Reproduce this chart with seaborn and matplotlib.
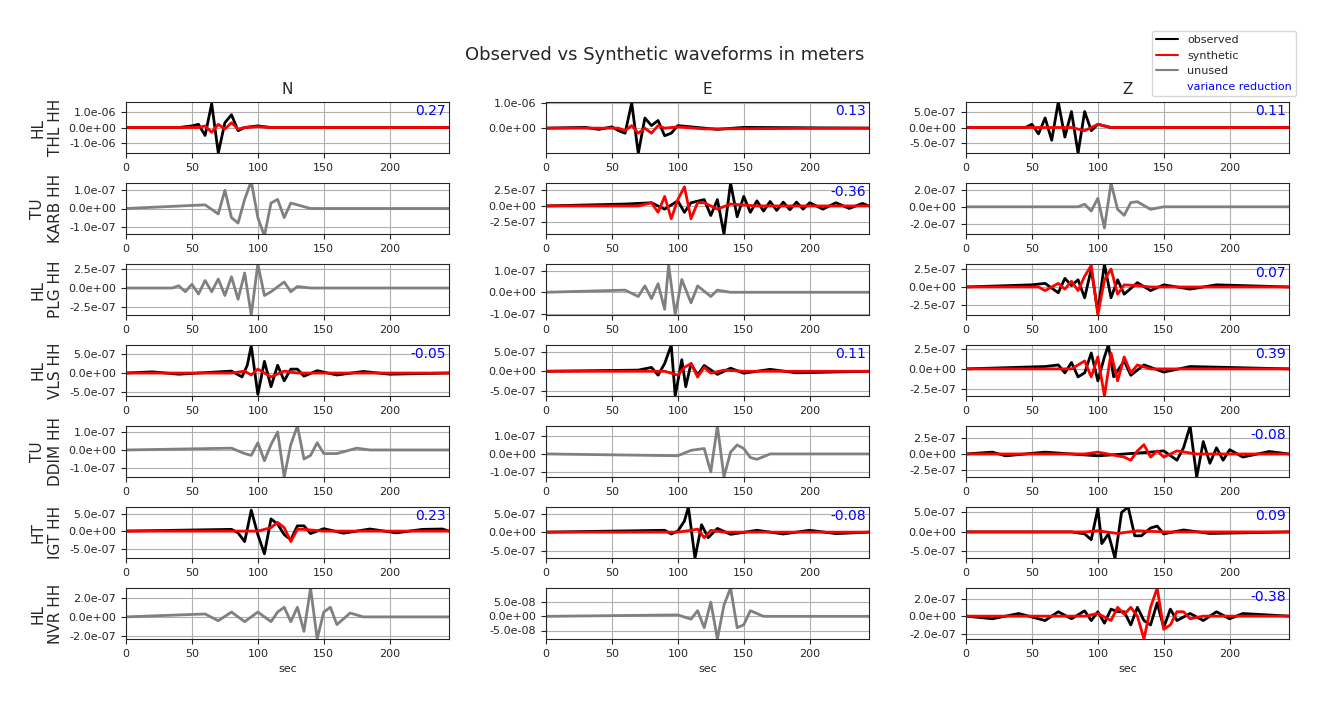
import matplotlib
matplotlib.use("Agg")
import matplotlib.pyplot as plt
import seaborn as sns
import pandas as pd
from matplotlib.lines import Line2D
from matplotlib.ticker import FormatStrFormatter

sns.set_style("ticks")
plt.rcParams['font.family'] = ['DejaVu Sans']

# waveform knots (time in sec, amplitude in 1e-7 m)
THL_N_obs = [(0, 0), (40, 0), (50, 1), (55, 2), (60, -5), (65, 15), (70, -16), (75, 3), (80, 8), (85, -2), (90, 0), (100, 1), (110, 0), (245, 0)]
THL_N_syn = [(0, 0), (55, 0), (60, 1), (65, -3), (70, 2), (75, -1), (80, 3), (85, -1), (90, 0), (100, 0.5), (110, 0), (245, 0)]
THL_E_obs = [(0, 0), (30, 0.3), (40, -0.5), (50, 0.5), (55, -1), (60, -2), (65, 10), (70, -10), (75, 4), (80, 1), (85, 3), (90, -3), (95, -2), (100, 1), (110, 0.5), (130, -0.5), (150, 0.3), (245, 0)]
THL_E_syn = [(0, 0), (55, 0), (60, -1), (65, 1), (70, -2), (75, 0), (80, -2), (85, 1), (90, 0), (100, 0.5), (120, -0.3), (245, 0)]
THL_Z_obs = [(0, 0), (45, 0), (50, 1), (55, -2), (60, 3), (65, -4), (70, 8), (75, -3), (80, 5), (85, -8), (90, 5), (95, -1), (100, 1), (110, 0), (245, 0)]
THL_Z_syn = [(0, 0), (80, 0), (90, -1), (100, 1), (110, 0), (245, 0)]

KARB_N_gray = [(0, 0), (60, 0.2), (70, -0.3), (75, 1), (80, -0.5), (85, -0.8), (90, 0.5), (95, 1.5), (100, -0.5), (105, -1.5), (110, 0.3), (115, 0.5), (120, -0.5), (125, 0.3), (130, 0.2), (140, 0), (245, 0)]
KARB_E_obs = [(0, 0), (60, 0.3), (80, 0.5), (90, -0.5), (100, 0.8), (105, -1), (110, 0.5), (120, 1), (125, -1.5), (130, 1), (135, -4.4), (140, 3.6), (145, -1.7), (150, 1.5), (155, -1), (160, 0.8), (165, -0.8), (170, 0.7), (175, -0.7), (180, 0.6), (185, -0.6), (190, 0.6), (195, -0.5), (200, 0.5), (210, -0.5), (220, 0.5), (230, -0.4), (240, 0.4), (245, 0)]
KARB_E_syn = [(0, 0), (70, 0), (80, 0.5), (85, -1), (90, 1.5), (95, -2), (100, 1), (105, 3), (110, -2), (115, 0.5), (120, 0.5), (130, -0.5), (140, 0.3), (160, 0), (245, 0)]
KARB_Z_gray = [(0, 0), (85, 0), (90, 0.3), (95, -0.5), (100, 1), (105, -2.5), (110, 2.8), (115, -0.3), (120, -1), (125, 0.5), (130, 0.6), (140, -0.3), (150, 0), (245, 0)]

PLG_N_gray = [(0, 0), (35, 0), (40, 0.3), (45, -0.5), (50, 0.5), (55, -0.8), (60, 1), (65, -0.5), (70, 1.2), (75, -1), (80, 1.5), (85, -1.5), (90, 2), (95, -3.6), (100, 3.2), (105, -1), (110, -0.5), (120, 0.8), (125, -0.5), (130, 0.2), (140, 0), (245, 0)]
PLG_E_gray = [(0, 0), (60, 0.1), (70, -0.2), (75, 0.3), (80, -0.3), (85, 0.4), (90, -0.8), (93, 1.3), (98, -1.05), (103, 0.6), (110, -0.5), (115, 0.3), (125, -0.2), (130, 0.1), (140, 0), (245, 0)]
PLG_Z_obs = [(0, 0), (50, 0.3), (60, 0.5), (70, -0.8), (75, 1.2), (80, 0.2), (85, 1), (90, -1.5), (95, 2.5), (100, -3.5), (105, 3.2), (110, -1.5), (115, 1), (120, -1), (130, 0.6), (140, -0.5), (150, 0.3), (170, -0.3), (190, 0.3), (245, 0)]
PLG_Z_syn = [(0, 0), (55, 0), (60, -0.5), (70, 0.5), (75, -0.3), (80, 0.8), (85, -0.5), (90, 1.5), (95, 3), (100, -3.9), (105, 1), (110, 2.5), (115, -1), (120, 0.3), (130, 0.2), (140, 0), (245, 0)]

VLS_N_obs = [(0, 0), (20, 0.3), (40, -0.3), (80, 0.5), (88, -1), (92, 2), (95, 7), (100, -5.5), (105, 3), (110, -3.5), (115, 2), (120, -2), (125, 1), (130, 1), (135, -0.8), (145, 0.6), (160, -0.5), (180, 0.4), (200, -0.3), (245, 0)]
VLS_N_syn = [(0, 0), (80, 0), (90, 0.5), (95, -0.5), (100, 1), (110, -1), (120, 0.5), (130, 0), (245, 0)]
VLS_E_obs = [(0, 0), (70, 0.3), (80, 1), (85, -1), (90, 2), (95, 6.8), (98, -6.4), (103, 3), (106, -4), (110, 2), (115, -1), (120, 1.5), (130, -0.8), (140, 0.8), (150, -0.5), (170, 0.5), (190, -0.4), (245, 0)]
VLS_E_syn = [(0, 0), (90, 0), (100, -1), (105, 1), (110, 2), (115, -1.5), (120, 1), (125, -0.5), (135, 0.3), (150, 0), (245, 0)]
VLS_Z_obs = [(0, 0), (60, 0.3), (70, 0.5), (75, -0.5), (80, 0.8), (85, -1), (90, -0.5), (95, 2), (100, -1.5), (105, 1.5), (108, 3), (112, -1), (118, 0.5), (120, 1), (125, -0.8), (135, 0.5), (150, -0.4), (170, 0.3), (245, 0)]
VLS_Z_syn = [(0, 0), (80, 0), (90, 1), (95, -1), (100, 1.5), (105, -3.4), (110, 2), (115, -1.5), (120, 1.5), (125, -0.5), (130, 0.5), (140, 0), (245, 0)]

DDIM_N_gray = [(0, 0), (80, 0.1), (90, -0.2), (95, -0.3), (100, 0.4), (105, -0.6), (110, 0.3), (115, 1.0), (120, -1.5), (125, 0.3), (130, 1.33), (135, -0.5), (140, -0.3), (145, 0.4), (150, -0.2), (160, -0.2), (175, 0.1), (185, 0), (245, 0)]
DDIM_E_gray = [(0, 0), (100, -0.1), (110, 0.2), (120, 0.3), (125, -1), (130, 1.55), (135, -1.28), (140, 0.1), (145, 0.5), (150, 0.3), (155, -0.2), (160, -0.3), (170, 0), (245, 0)]
DDIM_Z_obs = [(0, 0), (20, 0.3), (30, -0.3), (60, 0.3), (100, -0.3), (140, 0.3), (150, 0.5), (160, -1), (165, 1), (170, 4.5), (175, -3.7), (180, 2), (185, -1.5), (190, 1), (195, -1), (200, 0.7), (210, -0.5), (230, 0.4), (245, 0)]
DDIM_Z_syn = [(0, 0), (90, 0), (100, 0.3), (120, -0.5), (125, -1), (130, 0.5), (135, 1.5), (140, -0.5), (145, 0.5), (150, -0.5), (160, 0.5), (175, 0), (245, 0)]

IGT_N_obs = [(0, 0), (80, 0.5), (85, -0.5), (90, -3), (95, 6), (100, -1), (105, -6.5), (110, 3.5), (115, 2), (120, -1), (125, -2.5), (130, 1.5), (135, 1.5), (140, -0.7), (150, 0.7), (165, -0.6), (185, 0.6), (205, -0.5), (225, 0.5), (240, 0.6), (245, 0)]
IGT_N_syn = [(0, 0), (100, 0), (110, 1), (115, 2.5), (120, 1), (125, -3), (130, 0.5), (135, 0.5), (150, 0), (245, 0)]
IGT_E_obs = [(0, 0), (90, 0.5), (95, -0.5), (100, 0.3), (105, 3), (108, 6.8), (113, -7), (118, 2), (123, -1.5), (130, 1), (140, -0.6), (160, 0.5), (180, -0.5), (200, 0.5), (220, -0.4), (245, 0)]
IGT_E_syn = [(0, 0), (100, 0), (110, 0.5), (115, 0.8), (120, -1.5), (125, 0.5), (135, 0), (245, 0)]
IGT_Z_obs = [(0, 0), (80, 0), (90, -0.5), (95, -2), (100, 6), (103, -3), (108, -0.5), (113, -6.7), (118, 5), (123, 6.4), (128, -1), (133, -1), (140, 1), (145, 1.5), (150, -0.5), (165, 0.5), (185, -0.4), (245, 0)]
IGT_Z_syn = [(0, 0), (90, 0), (100, 0.3), (115, -0.4), (130, 0.3), (150, 0), (245, 0)]

NVR_N_gray = [(0, 0), (60, 0.3), (70, -0.4), (80, 0.5), (90, -0.5), (100, 0.5), (110, -0.5), (115, 0.5), (120, 1), (125, -0.5), (130, 1), (135, -1.5), (140, 3), (145, -2.3), (150, 0.5), (155, 1), (160, -0.8), (170, 0.4), (180, 0), (245, 0)]
NVR_E_gray = [(0, 0), (100, 0.05), (110, -0.1), (115, 0.2), (120, -0.4), (125, 0.5), (130, -0.8), (135, 0.4), (140, 1.0), (145, -0.4), (150, -0.3), (155, 0.2), (165, 0), (245, 0)]
NVR_Z_obs = [(0, 0), (20, -0.3), (40, 0.3), (60, -0.5), (70, 0.5), (80, -0.3), (90, 0.6), (95, -0.5), (100, 0.5), (105, -0.8), (110, 0.8), (115, 0.5), (120, 0.5), (125, -1), (130, 1), (135, -0.5), (140, -1), (145, 1.5), (150, -1.3), (155, 0.8), (160, -0.5), (170, 0.3), (180, -0.5), (190, 0.5), (200, -0.3), (210, 0.3), (245, 0)]
NVR_Z_syn = [(0, 0), (90, 0), (100, 0.3), (110, -0.5), (115, 1), (120, 0.2), (125, 1), (130, 0), (135, -2.6), (140, 1), (145, 3.2), (150, -1.5), (155, -1), (160, 0.5), (165, 0.5), (170, -0.3), (180, 0), (245, 0)]

stations = ["HL\nTHL HH", "TU\nKARB HH", "HL\nPLG HH", "HL\nVLS HH", "TU\nDDIM HH", "HT\nIGT HH", "HL\nNVR HH"]
components = ["N", "E", "Z"]

# per panel: (observed, synthetic) or (gray, None), variance reduction text
panel_traces = [
    [(THL_N_obs, THL_N_syn), (THL_E_obs, THL_E_syn), (THL_Z_obs, THL_Z_syn)],
    [(KARB_N_gray, None), (KARB_E_obs, KARB_E_syn), (KARB_Z_gray, None)],
    [(PLG_N_gray, None), (PLG_E_gray, None), (PLG_Z_obs, PLG_Z_syn)],
    [(VLS_N_obs, VLS_N_syn), (VLS_E_obs, VLS_E_syn), (VLS_Z_obs, VLS_Z_syn)],
    [(DDIM_N_gray, None), (DDIM_E_gray, None), (DDIM_Z_obs, DDIM_Z_syn)],
    [(IGT_N_obs, IGT_N_syn), (IGT_E_obs, IGT_E_syn), (IGT_Z_obs, IGT_Z_syn)],
    [(NVR_N_gray, None), (NVR_E_gray, None), (NVR_Z_obs, NVR_Z_syn)],
]
variance_reduction = [
    ["0.27", "0.13", "0.11"],
    [None, "-0.36", None],
    [None, None, "0.07"],
    ["-0.05", "0.11", "0.39"],
    [None, None, "-0.08"],
    ["0.23", "-0.08", "0.09"],
    [None, None, "-0.38"],
]
# y ranges (1e-7 m) and ticks
y_limits = [
    [(-16, 16), (-9.8, 10.3), (-8, 8)],
    [(-1.4, 1.4), (-4.4, 3.6), (-3.2, 2.8)],
    [(-3.6, 3.2), (-1.07, 1.33), (-3.9, 3.2)],
    [(-5.9, 7.2), (-6.4, 6.8), (-3.4, 3.0)],
    [(-1.5, 1.33), (-1.28, 1.55), (-3.7, 4.5)],
    [(-7.7, 6.9), (-7.0, 6.8), (-6.7, 6.4)],
    [(-2.3, 3.0), (-0.8, 1.0), (-2.6, 3.2)],
]
y_ticks = [
    [[-10, 0, 10], [0, 10], [-5, 0, 5]],
    [[-1, 0, 1], [-2.5, 0, 2.5], [-2, 0, 2]],
    [[-2.5, 0, 2.5], [-1, 0, 1], [-2.5, 0, 2.5]],
    [[-5, 0, 5], [-5, 0, 5], [-2.5, 0, 2.5]],
    [[-1, 0, 1], [-1, 0, 1], [-2.5, 0, 2.5]],
    [[-5, 0, 5], [-5, 0, 5], [-5, 0, 5]],
    [[-2, 0, 2], [-0.5, 0, 0.5], [-2, 0, 2]],
]


def to_frame(knots):
    return pd.DataFrame({"t": [k[0] for k in knots], "v": [k[1] * 1e-7 for k in knots]})


fig = plt.figure(figsize=(13.29, 7.09), dpi=100)
W, H = 1329, 709
col_left = [126, 546, 966]
for r in range(7):
    top = 102 + 81 * r
    for c in range(3):
        ax = fig.add_axes([col_left[c] / W, 1 - (top + 51) / H, 323 / W, 51 / H])
        first, second = panel_traces[r][c]
        if second is None:
            sns.lineplot(data=to_frame(first), x="t", y="v", color="gray", lw=2, ax=ax)
        else:
            sns.lineplot(data=to_frame(first), x="t", y="v", color="black", lw=2, ax=ax)
            sns.lineplot(data=to_frame(second), x="t", y="v", color="red", lw=2, ax=ax)
        lo, hi = y_limits[r][c]
        ax.set_ylim(lo * 1e-7, hi * 1e-7)
        ax.set_yticks([t * 1e-7 for t in y_ticks[r][c]])
        ax.yaxis.set_major_formatter(FormatStrFormatter("%.1e"))
        ax.set_xlim(0, 245)
        ax.set_xticks([0, 50, 100, 150, 200])
        ax.tick_params(labelsize=8)
        ax.grid(True, color="#b0b0b0")
        ax.set_xlabel("sec" if r == 6 else "", fontsize=8)
        ax.set_ylabel(stations[r] if c == 0 else "", fontsize=11)
        if r == 0:
            ax.set_title(components[c], fontsize=11)
        if variance_reduction[r][c]:
            ax.text(0.99, 0.83, variance_reduction[r][c], color="blue", fontsize=10,
                    ha="right", va="center", transform=ax.transAxes)

fig.suptitle("Observed vs Synthetic waveforms in meters", y=1 - 55 / H, va="center", fontsize=13)
handles = [Line2D([], [], color="black"), Line2D([], [], color="red"),
           Line2D([], [], color="gray"), Line2D([], [], color="none")]
leg = fig.legend(handles, ["observed", "synthetic", "unused", "variance reduction"],
                 loc="upper right", bbox_to_anchor=(1302 / W, 1 - 25 / H), fontsize=8)
leg.get_texts()[3].set_color("blue")
fig.savefig("out.png", dpi=100)
